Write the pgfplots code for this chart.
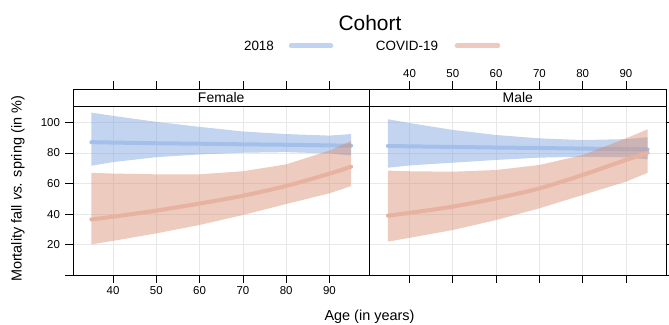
\documentclass[border=0pt]{standalone}
\usepackage{pgfplots}
\pgfplotsset{compat=1.18}
\usepackage{fontspec}
\setmainfont{Liberation Sans}
\definecolor{bandblue}{RGB}{120,160,220}
\definecolor{bandred}{RGB}{215,139,113}
\definecolor{lineblue}{RGB}{163,192,234}
\definecolor{linered}{RGB}{231,178,160}
\definecolor{legblue}{RGB}{192,211,240}
\definecolor{legred}{RGB}{236,202,190}
\definecolor{gridgray}{RGB}{232,232,232}
\pgfplotsset{lat/.style={
  scale only axis, width=296.5bp, height=186.3bp,
  xmin=30.75, xmax=99.25, ymin=0, ymax=121.76,
  xtick={40,50,...,90}, ytick={0,20,...,100},
  grid=major, grid style={gridgray, line width=0.7bp},
  tick align=outside, major tick length=7.5bp,
  tick style={black, line width=0.7bp},
  axis line style={black, line width=0.8bp},
  xtick pos=both,
  /pgf/number format/assume math mode=true,
  ticklabel style={font=\fontsize{11.5}{13}\selectfont},
  clip=false}}
\begin{document}
\begin{tikzpicture}
\path[use as bounding box] (0,0) rectangle (669bp,325bp);
% Left panel: Female
\begin{axis}[lat, at={(73bp,49.7bp)}, anchor=south west,
  xticklabel pos=lower, ytick pos=left, yticklabel pos=left,
  yticklabels={{},20,40,60,80,100},
  yticklabel style={xshift=-2bp}]
\addplot[draw=none, fill=bandblue, fill opacity=0.45] coordinates {
 (35,106.3) (40,104.2) (50,100.3) (60,97) (70,94) (80,92.3) (90,91.3) (95,92.3)
 (95,78.3) (90,79.6) (80,80.5) (70,80.1) (60,79) (50,77.2) (40,74) (35,71.6)} -- cycle;
\addplot[lineblue, line width=4bp, line cap=round, smooth] coordinates {
 (35,87) (50,86.3) (60,86) (70,85.6) (80,85.3) (90,84.9) (95,84.7)};
\addplot[draw=none, fill=bandred, fill opacity=0.45] coordinates {
 (35,67) (40,66.5) (50,66) (60,66) (70,68) (80,72.5) (90,81.5) (95,87.8)
 (95,58.3) (90,53.6) (80,46.6) (70,39.4) (60,32.9) (50,27.4) (40,22.5) (35,20.2)} -- cycle;
\addplot[linered, line width=4bp, line cap=round, smooth] coordinates {
 (35,36.5) (40,38.3) (50,42.3) (60,46.9) (70,52) (80,58.4) (90,66.4) (95,71)};
\draw[black, line width=0.8bp, fill=white] (axis cs:30.75,110.2) rectangle (axis cs:99.25,121.76);
\node at (axis cs:65,116) {\fontsize{14}{16}\selectfont Female};
\end{axis}
% Right panel: Male
\begin{axis}[lat, at={(369.5bp,49.7bp)}, anchor=south west,
  xticklabel pos=upper, ytick pos=right,
  yticklabels={}]
\addplot[draw=none, fill=bandblue, fill opacity=0.45] coordinates {
 (35,102) (40,99.5) (50,95) (60,91.7) (70,89.5) (80,88.4) (90,89) (95,90.2)
 (95,75.8) (90,77.1) (80,77.5) (70,76.9) (60,75.4) (50,73.6) (40,71.8) (35,70.3)} -- cycle;
\addplot[lineblue, line width=4bp, line cap=round, smooth] coordinates {
 (35,84.5) (50,83.9) (60,83.5) (70,83.2) (80,82.8) (90,82.5) (95,82.3)};
\addplot[draw=none, fill=bandred, fill opacity=0.45] coordinates {
 (35,68.4) (40,68) (50,67.7) (60,68.8) (70,72.1) (80,78.6) (90,89.5) (95,95.4)
 (95,67) (90,61.2) (80,52.5) (70,43.8) (60,36.1) (50,29.6) (40,24.5) (35,22)} -- cycle;
\addplot[linered, line width=4bp, line cap=round, smooth] coordinates {
 (35,39) (40,40.8) (50,44.9) (60,50.3) (70,56.8) (80,65.6) (90,75.4) (95,80.1)};
\draw[black, line width=0.8bp, fill=white] (axis cs:30.75,110.2) rectangle (axis cs:99.25,121.76);
\node at (axis cs:65,116) {\fontsize{14}{16}\selectfont Male};
\end{axis}
% Labels
\node at (369.5bp,8bp) {\fontsize{14.5}{16}\selectfont Age (in years)};
\node[rotate=90] at (18bp,136bp) {\fontsize{14.5}{16}\selectfont Mortality fall \textit{vs.} spring (in \%)};
% Legend
\node at (370bp,302bp) {\fontsize{21}{24}\selectfont Cohort};
\node at (259bp,279.3bp) {\fontsize{13.5}{15}\selectfont 2018};
\draw[legblue, line width=4.5bp, line cap=round] (291bp,279.3bp) -- (331bp,279.3bp);
\node at (407bp,279.3bp) {\fontsize{13.5}{15}\selectfont COVID-19};
\draw[legred, line width=4.5bp, line cap=round] (457bp,279.3bp) -- (498bp,279.3bp);
\end{tikzpicture}
\end{document}
